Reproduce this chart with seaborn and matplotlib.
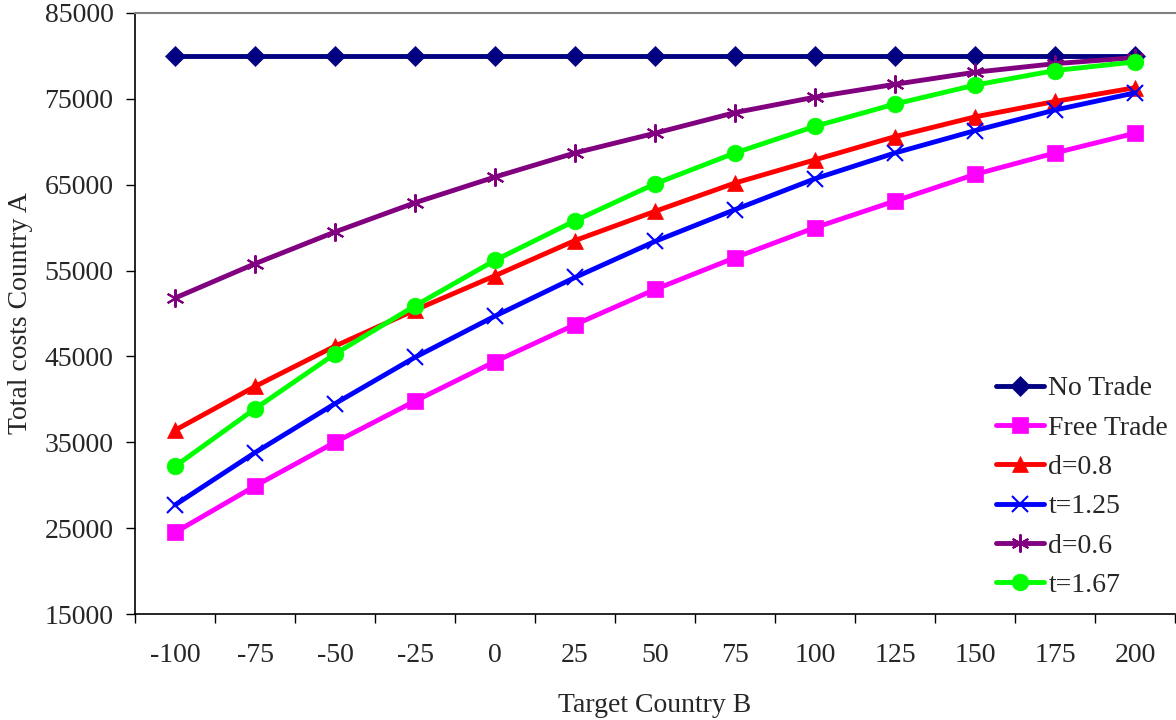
import matplotlib
matplotlib.use("Agg")
import matplotlib.pyplot as plt
import seaborn as sns
import numpy as np
import pandas as pd

categories = ["-100", "-75", "-50", "-25", "0", "25", "50", "75", "100", "125", "150", "175", "200"]
no_trade   = [80000] * 13
free_trade = [24500, 29900, 35000, 39800, 44400, 48700, 52800, 56500, 60000, 63100, 66200, 68700, 71000]
d_08       = [36400, 41500, 46200, 50400, 54400, 58500, 61900, 65200, 67900, 70600, 72900, 74700, 76300]
t_125      = [27700, 33800, 39500, 44900, 49700, 54200, 58400, 62100, 65700, 68700, 71300, 73700, 75700]
d_06       = [51800, 55800, 59500, 62900, 65900, 68700, 71000, 73400, 75200, 76700, 78100, 79100, 79800]
t_167      = [32200, 38900, 45300, 50900, 56200, 60800, 65100, 68700, 71800, 74400, 76600, 78300, 79300]
yticks = [15000, 25000, 35000, 45000, 55000, 65000, 75000, 85000]

series = [
    ("No Trade", no_trade, "#000080", "D", 10.5),
    ("Free Trade", free_trade, "#FF00FF", "s", 11.5),
    ("d=0.8", d_08, "#FF0000", "^", 12),
    ("t=1.25", t_125, "#0000FF", "x", 12),
    ("d=0.6", d_06, "#800080", (6, 2, 0), 13),
    ("t=1.67", t_167, "#00FF00", "o", 12),
]

sns.set_theme(style="white")
plt.rcParams["font.family"] = ["Liberation Serif", "DejaVu Serif"]
FS = 20

fig = plt.figure(figsize=(11.76, 7.2), dpi=100)
ax = fig.add_axes([135 / 1176, 1 - 614 / 720, 1040 / 1176, (614 - 13) / 720])

pos = np.arange(len(categories))
for name, vals, color, marker, ms in series:
    df = pd.DataFrame({"x": pos, "y": vals})
    sns.lineplot(data=df, x="x", y="y", ax=ax, color=color, marker=marker,
                 markersize=ms, linewidth=3.5, label=name,
                 markeredgecolor=color, markeredgewidth=1.5 if marker in ("x", (6, 2, 0)) else 0.5)

ax.set_xlim(-0.5, len(categories) - 0.5)
ax.set_ylim(15000, 85000)
ax.set_yticks(yticks)
ax.set_yticklabels([str(v) for v in yticks], fontsize=FS)
ax.set_xticks(pos)
ax.set_xticklabels(categories, fontsize=FS)
ax.set_xticks(np.arange(-0.5, len(categories), 1.0), minor=True)
ax.tick_params(axis="x", which="major", length=0, pad=21)
ax.tick_params(axis="x", which="minor", length=6.5, width=1, color="black", direction="out", bottom=True)
ax.tick_params(axis="y", length=6.5, width=1, color="black", direction="out", left=True, pad=9)

for side in ["left", "bottom"]:
    ax.spines[side].set_color("black")
    ax.spines[side].set_linewidth(1.2)
ax.spines["top"].set_color("#808080")
ax.spines["top"].set_linewidth(1.5)
ax.spines["right"].set_visible(False)

ax.set_xlabel("Target Country B", fontsize=FS, labelpad=18)
ax.set_ylabel("Total costs Country A", fontsize=FS, labelpad=8)

leg = ax.legend(loc="lower right", bbox_to_anchor=(1.004, 0.008), frameon=False, fontsize=FS,
                handlelength=1.75, handletextpad=0.15, labelspacing=0.5, borderaxespad=0.0)

fig.savefig("out.png", dpi=100)
